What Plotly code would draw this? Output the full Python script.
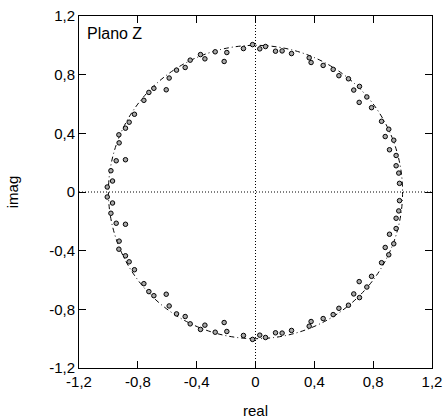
import plotly.graph_objects as go

# upper-half roots (the lower half is the complex conjugate)
re_upper = [-1.008, -0.972, -0.983, -0.947, -0.884, -0.927, -0.929, -0.884, -0.859, -0.823,
            -0.759, -0.725, -0.691, -0.607, -0.587, -0.537, -0.478, -0.444, -0.374, -0.344,
            -0.274, -0.213, -0.195, -0.082, -0.020, 0.029, 0.068, 0.136, 0.181, 0.245,
            0.365, 0.378, 0.460, 0.528, 0.567, 0.632, 0.668, 0.707, 0.705, 0.757,
            0.789, 0.857, 0.906, 0.882, 0.940, 0.911, 0.956, 0.956, 0.974, 0.979]
im_upper = [0.034, 0.075, 0.145, 0.213, 0.220, 0.335, 0.390, 0.435, 0.476, 0.530,
            0.625, 0.679, 0.707, 0.697, 0.777, 0.831, 0.849, 0.899, 0.937, 0.908,
            0.956, 0.890, 0.951, 0.978, 1.005, 0.976, 0.992, 0.960, 0.962, 0.944,
            0.915, 0.883, 0.863, 0.836, 0.793, 0.772, 0.695, 0.720, 0.611, 0.648,
            0.575, 0.482, 0.428, 0.378, 0.353, 0.288, 0.249, 0.179, 0.129, 0.059]

tick_vals = [-1.2, -0.8, -0.4, 0, 0.4, 0.8, 1.2]
tick_text = ["-1,2", "-0,8", "-0,4", "0", "0,4", "0,8", "1,2"]

re_all = re_upper + re_upper
im_all = im_upper + [-v for v in im_upper]

FS = 15

fig = go.Figure()
fig.add_trace(go.Scatter(
    x=re_all, y=im_all, mode="markers",
    marker=dict(symbol="circle", size=4.5, color="#a8a8a8",
                line=dict(color="black", width=1)),
    showlegend=False, hoverinfo="skip"))

fig.add_shape(type="circle", xref="x", yref="y", x0=-1, y0=-1, x1=1, y1=1,
              line=dict(color="black", width=1, dash="5px,3px,1px,3px"), layer="below")
fig.add_shape(type="line", xref="x", yref="y", x0=-1.2, x1=1.2, y0=0, y1=0,
              line=dict(color="black", width=1, dash="1px,2px"), layer="below")
fig.add_shape(type="line", xref="x", yref="y", x0=0, x1=0, y0=-1.2, y1=1.2,
              line=dict(color="black", width=1, dash="1px,2px"), layer="below")

axis_common = dict(range=[-1.2, 1.2], tickvals=tick_vals, ticktext=tick_text,
                   ticks="inside", ticklen=7, tickwidth=1, tickcolor="black",
                   showline=True, linecolor="black", linewidth=1, mirror="ticks",
                   showgrid=False, zeroline=False, automargin=False,
                   tickfont=dict(size=FS, color="black"))

fig.update_xaxes(**axis_common, title=dict(text="real", font=dict(size=FS, color="black"), standoff=16))
fig.update_yaxes(**axis_common, title=dict(text="imag", font=dict(size=FS, color="black"), standoff=26))

fig.add_annotation(xref="paper", yref="paper", x=0.018, y=0.95, xanchor="left", yanchor="middle",
                   text="Plano Z", showarrow=False, font=dict(size=16, color="black"))

fig.update_layout(width=443, height=419, margin=dict(l=79, r=11, t=16, b=51),
                  plot_bgcolor="white", paper_bgcolor="white",
                  font=dict(family="Liberation Sans, Arial, sans-serif", size=FS, color="black"))

fig.write_html("out.html", config={"displayModeBar": False},
               post_script="document.body.style.margin='0';")
